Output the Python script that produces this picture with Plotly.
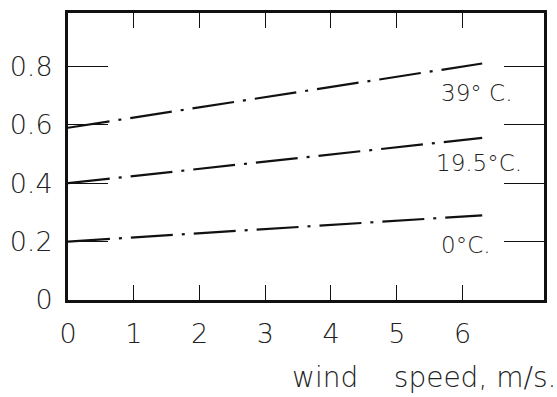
import plotly.graph_objects as go

wind_speed = [0.0, 6.3]
t39 = [0.59, 0.81]
t195 = [0.40, 0.555]
t0 = [0.20, 0.29]
series_names = ["39° C.", "19.5°C.", "0°C."]
label_pos_x = [6.22, 6.25, 6.05]
label_pos_y = [0.71, 0.47, 0.19]
x_ticks = [0, 1, 2, 3, 4, 5, 6]
y_ticks = [0, 0.2, 0.4, 0.6, 0.8]
y_tick_text = ["0", "0.2", "0.4", "0.6", "0.8"]

FONT = "DejaVu Sans ExtraLight, DejaVu Sans"
W = 200
fig = go.Figure()
for ys, name in zip([t39, t195, t0], series_names):
    fig.add_trace(go.Scatter(x=wind_speed, y=ys, mode="lines", name=name,
                             line=dict(color="#111", width=2.2, dash="42px,9px,3px,9px")))

for name, lx, ly in zip(series_names, label_pos_x, label_pos_y):
    fig.add_annotation(x=lx, y=ly, text=name, showarrow=False,
                       font=dict(family=FONT, size=23, color="#222", weight=W))

fig.add_annotation(xref="paper", yref="paper", x=1.03, y=-0.27, xanchor="right", yanchor="middle",
                   text="wind&nbsp;&nbsp;&nbsp;&nbsp;speed, m/s.", showarrow=False,
                   font=dict(family=FONT, size=28, color="#222", weight=W))

fig.update_layout(
    width=557, height=397,
    margin=dict(l=67, r=11, t=10, b=97),
    paper_bgcolor="white", plot_bgcolor="white",
    showlegend=False,
)
fig.update_xaxes(range=[0, 7.24], tickvals=x_ticks, ticks="inside", ticklen=15, tickwidth=1.2,
                 tickcolor="#111", showline=True, linewidth=3, linecolor="#111", mirror="ticks",
                 showgrid=False, zeroline=False, ticklabelstandoff=8,
                 tickfont=dict(family=FONT, size=27, color="#222", weight=W))
fig.update_yaxes(range=[0, 0.983], tickvals=y_ticks, ticktext=y_tick_text, ticks="inside",
                 ticklen=40, tickwidth=1.2, tickcolor="#111", showline=True, linewidth=3,
                 linecolor="#111", mirror="ticks", showgrid=False, zeroline=False,
                 ticklabelstandoff=7,
                 tickfont=dict(family=FONT, size=27, color="#222", weight=W))

fig.write_html("out.html")
